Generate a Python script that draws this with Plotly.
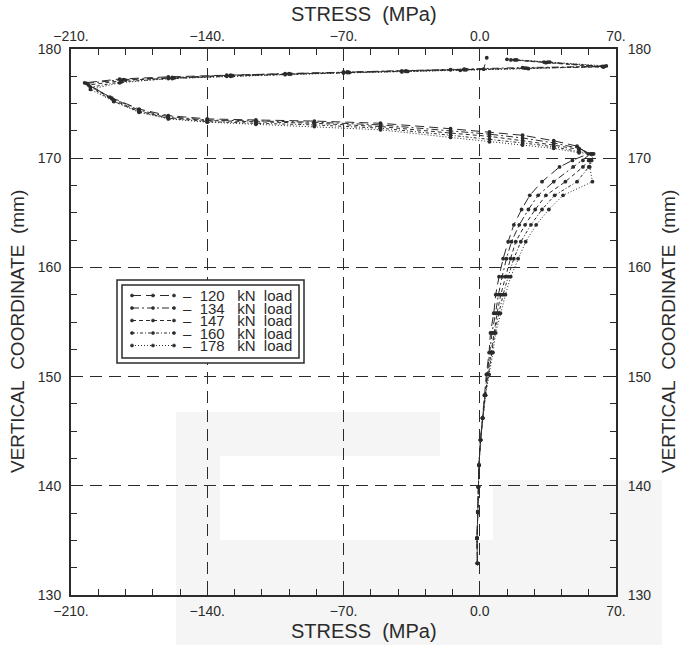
import plotly.graph_objects as go

# ---------------- data ----------------
loads = ["120", "134", "147", "160", "178"]

# lower branch: vertical coordinate (mm) shared by all loads
v_low = [132.9, 135.2, 137.6, 139.9, 141.9, 144.2, 146.2, 148.3, 150.2, 152.2,
         154.0, 155.8, 157.5, 159.15, 160.8, 162.35, 163.9, 165.3, 166.6, 167.85,
         169.2, 169.8, 170.4]
s_low_120 = [-1.2, -1.4, -1.0, -0.7, -0.4, 0.4, 1.4, 2.4, 3.4, 4.8, 5.5, 7.2, 8.2, 9.9,
             12.0, 14.6, 17.5, 21.5, 25.7, 32.0, 41.0, 47.6, 55.7]
s_low_134 = [-1.2, -1.4, -1.0, -0.7, -0.4, 0.4, 1.4, 2.6, 3.8, 5.3, 6.3, 8.1, 9.6, 11.5,
             13.7, 16.3, 20.3, 25.0, 30.0, 38.0, 48.0, 53.0, 57.0]
s_low_147 = [-1.2, -1.4, -1.0, -0.7, -0.4, 0.4, 1.4, 2.8, 4.1, 5.8, 7.0, 8.9, 10.8, 13.2,
             15.8, 18.5, 23.3, 28.5, 34.0, 44.0, 53.0, 56.0, 57.5]
s_low_160 = [-1.2, -1.4, -1.0, -0.7, -0.4, 0.4, 1.5, 2.9, 4.5, 6.3, 7.7, 9.8, 12.0, 14.6,
             17.5, 21.1, 26.3, 32.0, 38.5, 50.0, 56.0, 57.0, 58.0]
s_low_178 = [-1.2, -1.4, -1.0, -0.7, -0.4, 0.4, 1.6, 3.0, 4.8, 6.8, 8.2, 10.6, 13.2, 15.9,
             19.7, 23.6, 29.0, 35.5, 42.8, 57.9, 56.5, 57.5, 58.5]

# upper branch: peak -> compressive tip -> top edge (own coordinates per load)
s_up_120 = [50, 38, 22, 5, -15, -51, -85, -115, -140, -160, -175, -190, -203,
            -185, -160, -130, -100, -70, -40, -15, 2, 3.6]
v_up_120 = [171.1, 171.6, 172.1, 172.4, 172.7, 173.2, 173.4, 173.5, 173.6, 173.9, 174.5, 175.6, 176.9,
            177.25, 177.45, 177.6, 177.75, 177.9, 178.0, 178.1, 178.15, 179.2]
s_up_134 = [51, 38, 22, 5, -15, -51, -85, -115, -140, -160, -175, -189, -202,
            -183, -158, -128, -98, -68, -38, -8, 22, 63, 33, 14]
v_up_134 = [170.9, 171.4, 171.85, 172.2, 172.5, 173.05, 173.3, 173.4, 173.5, 173.8, 174.4, 175.5, 176.85,
            177.2, 177.4, 177.6, 177.75, 177.9, 178.0, 178.15, 178.3, 178.4, 178.8, 179.05]
s_up_147 = [51, 38, 22, 5, -15, -51, -85, -115, -140, -160, -175, -188, -201,
            -182, -157, -127, -97, -67, -37, -7, 23, 63.5, 34, 16]
v_up_147 = [170.8, 171.2, 171.6, 172.0, 172.3, 172.9, 173.2, 173.3, 173.45, 173.7, 174.3, 175.3, 176.7,
            177.15, 177.35, 177.55, 177.7, 177.85, 177.95, 178.1, 178.25, 178.35, 178.75, 179.0]
s_up_160 = [51, 38, 22, 5, -15, -51, -85, -115, -140, -160, -175, -188, -200,
            -184, -158, -128, -98, -68, -38, -8, 24, 64, 35, 18]
v_up_160 = [170.6, 171.05, 171.4, 171.75, 172.1, 172.75, 173.05, 173.2, 173.35, 173.65, 174.25, 175.2, 176.5,
            177.0, 177.3, 177.5, 177.7, 177.85, 177.95, 178.1, 178.25, 178.4, 178.8, 179.0]
s_up_178 = [51, 38, 22, 5, -15, -51, -85, -115, -140, -160, -175, -188, -200,
            -185, -160, -130, -100, -70, -40, -10, 25, 65, 36, 19]
v_up_178 = [170.5, 170.9, 171.2, 171.5, 171.9, 172.6, 172.9, 173.1, 173.3, 173.6, 174.2, 175.2, 176.3,
            176.9, 177.3, 177.5, 177.65, 177.8, 177.9, 178.05, 178.2, 178.45, 178.8, 179.0]

series_s = [s_low_120 + s_up_120, s_low_134 + s_up_134, s_low_147 + s_up_147,
            s_low_160 + s_up_160, s_low_178 + s_up_178]
series_v = [v_low + v_up_120, v_low + v_up_134, v_low + v_up_147,
            v_low + v_up_160, v_low + v_up_178]

x_major = [-210, -140, -70, 0, 70]
x_major_text = ["\u2212210.", "\u2212140.", "\u221270.", "0.0", "70."]
y_major = [130, 140, 150, 160, 170, 180]

# ---------------- styles ----------------
dashes = ["9px,5px", "7px,3px,2px,3px", "4px,3px", "3px,2px,1px,2px", "1px,2px"]
ink = "#2b2b2b"
wm = "#f5f5f5"
FONT = "Liberation Sans, Arial, sans-serif"

fig = go.Figure()
for s, v, name, d in zip(series_s, series_v, loads, dashes):
    fig.add_trace(go.Scatter(
        x=s, y=v, mode="lines+markers", name=name + " kN load",
        line=dict(color=ink, width=1, dash=d),
        marker=dict(color=ink, size=3.8), showlegend=False))

# dummy trace for secondary axes
fig.add_trace(go.Scatter(x=[None], y=[None], xaxis="x2", yaxis="y2", showlegend=False))

def axcommon(standoff):
    return dict(showline=True, linecolor=ink, linewidth=2, mirror=False,
                ticks="inside", ticklen=6, tickcolor=ink, tickwidth=1.2,
                ticklabelstandoff=standoff,
                tickfont=dict(family=FONT, size=14, color=ink), zeroline=False)

fig.update_layout(
    width=685, height=645, margin=dict(l=71, r=69, t=49, b=50),
    paper_bgcolor="white", plot_bgcolor="rgba(0,0,0,0)",
    xaxis=dict(range=[-210, 70], tickvals=x_major, ticktext=x_major_text,
               showgrid=True, gridcolor=ink, gridwidth=1.4, griddash="12px,7px",
               minor=dict(dtick=14, ticks="inside", ticklen=6, tickcolor=ink, showgrid=False),
               **axcommon(2)),
    xaxis2=dict(range=[-210, 70], overlaying="x", side="top", anchor="y",
                tickvals=x_major, ticktext=x_major_text, showgrid=False,
                minor=dict(dtick=14, ticks="inside", ticklen=6, tickcolor=ink),
                **axcommon(0)),
    yaxis=dict(range=[130, 180], tickvals=y_major, showgrid=True, gridcolor=ink,
               gridwidth=1.4, griddash="12px,7px",
               minor=dict(dtick=2.5, ticks="inside", ticklen=6, tickcolor=ink, showgrid=False),
               **axcommon(5)),
    yaxis2=dict(range=[130, 180], overlaying="y", side="right", anchor="x",
                tickvals=y_major, showgrid=False,
                minor=dict(dtick=2.5, ticks="inside", ticklen=6, tickcolor=ink),
                **axcommon(7)),
)

W, H = 685, 645
L0, T0, PW, PH = 71, 49, 545, 546
def px(x):
    return (x - L0) / PW
def py(y):
    return 1 - (y - T0) / PH

# faint watermark of the source page (below everything)
for (x0, y0, x1, y1) in [(176, 412, 440, 456), (176, 456, 220, 540), (493, 480, 662, 540),
                         (176, 540, 662, 645)]:
    fig.add_shape(type="rect", xref="paper", yref="paper", x0=px(x0), x1=px(x1),
                  y0=py(y1), y1=py(y0), line=dict(width=0), fillcolor=wm, layer="below")

# axis titles
nb = "\u00a0"
title_font = dict(family=FONT, size=20, color=ink)
fig.add_annotation(text="STRESS" + nb * 2 + "(MPa)", xref="paper", yref="paper",
                   x=px(364), y=1, yshift=35, xanchor="center", yanchor="middle",
                   showarrow=False, font=title_font)
fig.add_annotation(text="STRESS" + nb * 2 + "(MPa)", xref="paper", yref="paper",
                   x=px(364), y=0, yshift=-36, xanchor="center", yanchor="middle",
                   showarrow=False, font=title_font)
ytitle = "VERTICAL" + nb * 2 + "COORDINATE" + nb * 2 + "(mm)"
ytitle_font = dict(family=FONT, size=19, color=ink)
fig.add_annotation(text=ytitle, xref="paper", yref="paper", x=0, xshift=-54, y=py(332),
                   xanchor="center", yanchor="middle",
                   textangle=-90, showarrow=False, font=ytitle_font)
fig.add_annotation(text=ytitle, xref="paper", yref="paper", x=1, xshift=52, y=py(332),
                   xanchor="center", yanchor="middle",
                   textangle=-90, showarrow=False, font=ytitle_font)

# legend (drawn manually)
fig.add_shape(type="rect", xref="paper", yref="paper", x0=px(117), x1=px(304),
              y0=py(363), y1=py(280), line=dict(color=ink, width=1.5), fillcolor="white")
fig.add_shape(type="rect", xref="paper", yref="paper", x0=px(122), x1=px(299),
              y0=py(358), y1=py(285), line=dict(color=ink, width=1.5))
rows_y = [295.5, 308, 320.5, 333, 345.5]
leg_font = dict(family=FONT, size=15, color=ink)
for name, d, ry in zip(loads, dashes, rows_y):
    fig.add_shape(type="line", xref="paper", yref="paper", x0=px(132), x1=px(174),
                  y0=py(ry), y1=py(ry), line=dict(color=ink, width=1, dash=d))
    for cx in (132, 153, 174):
        fig.add_shape(type="circle", xref="paper", yref="paper",
                      x0=px(cx - 1.6), x1=px(cx + 1.6), y0=py(ry + 1.6), y1=py(ry - 1.6),
                      line=dict(color=ink, width=0.5), fillcolor=ink)
    label = "\u2013" + nb * 2 + name + nb * 3 + "kN" + nb * 2 + "load"
    fig.add_annotation(text=label, xref="paper", yref="paper", x=px(182), y=py(ry),
                       xanchor="left", yanchor="middle", showarrow=False, font=leg_font,
                       borderpad=0)

fig.write_html("out.html")
